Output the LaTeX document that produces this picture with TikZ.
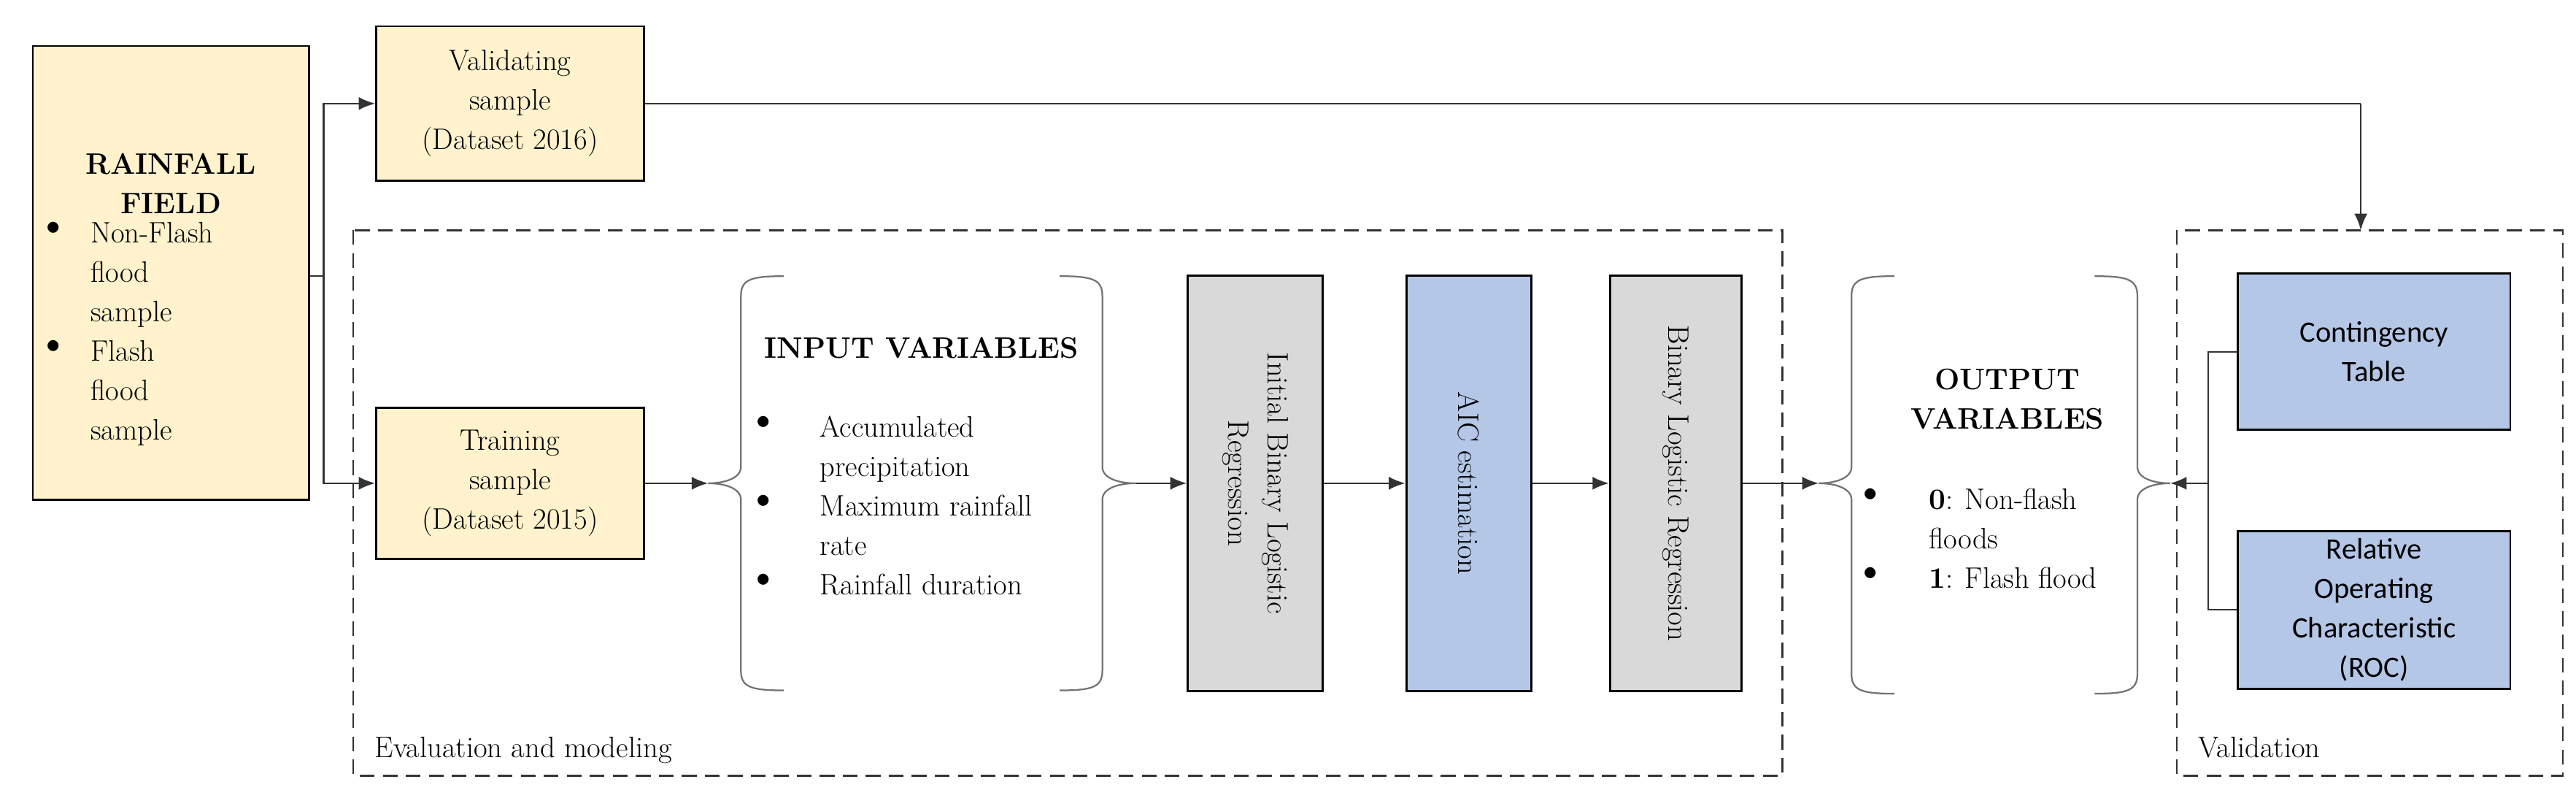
\documentclass[tikz,border=0pt]{standalone}
\usepackage{fontspec}
\newfontfamily\calfnt{Carlito}
\usetikzlibrary{arrows.meta}
\definecolor{yel}{HTML}{FFF2CC}
\definecolor{blu}{HTML}{B4C7E7}
\definecolor{gry}{HTML}{D9D9D9}
\newcommand\myBraceL[4]{% X, top, bottom, mid
 \draw[brc] (#1+26,#2) .. controls (#1+6,#2) and (#1,#2+2) .. (#1,#2+12) -- (#1,#4-10) .. controls (#1,#4-3) and (#1-10,#4) .. (#1-20,#4)
   .. controls (#1-10,#4) and (#1,#4+3) .. (#1,#4+10) -- (#1,#3-12) .. controls (#1,#3-2) and (#1+6,#3) .. (#1+26,#3);}
\newcommand\myBraceR[4]{%
 \draw[brc] (#1-26,#2) .. controls (#1-6,#2) and (#1,#2+2) .. (#1,#2+12) -- (#1,#4-10) .. controls (#1,#4-3) and (#1+10,#4) .. (#1+20,#4)
   .. controls (#1+10,#4) and (#1,#4+3) .. (#1,#4+10) -- (#1,#3-12) .. controls (#1,#3-2) and (#1-6,#3) .. (#1-26,#3);}
\begin{document}
\begin{tikzpicture}[x=1pt,y=-1pt,
 box/.style={draw=black,line width=1.3pt,inner sep=0pt},
 txt/.style={inner sep=0pt,font=\fontsize{18}{24}\selectfont,align=center},
 ctxt/.style={inner sep=0pt,font=\calfnt\fontsize{18}{24}\selectfont,align=center},
 ln/.style={draw=black!80,line width=1pt},
 arr/.style={ln,-{Latex[length=10pt,width=8pt]}},
 dsh/.style={draw=black!80,line width=1.2pt,dash pattern=on 9pt off 5pt},
 brc/.style={draw=black!55,line width=1pt}]
\useasboundingbox (0,0) rectangle (1568,492);
% dashed frames
\draw[dsh] (215,140) rectangle (1085,472);
\draw[dsh] (1325,140) rectangle (1560,472);
\node[txt,anchor=base west] (evl) at (228,461) {Evaluation and modeling};
\node[txt,anchor=base west] (vll) at (1338,461) {Validation};
% rainfall
\node[box,fill=yel,minimum width=168pt,minimum height=276pt] (rain) at (104,166) {};
\node[txt,anchor=north] (rt) at (104,93) {\textbf{RAINFALL}\\\textbf{FIELD}};
\node[txt,anchor=north west,align=left] (rb) at (28,135) {$\bullet$\\[48pt]$\bullet$};
\node[txt,anchor=north west,align=left] (rl) at (55,135) {Non-Flash\\flood\\sample\\Flash\\flood\\sample};
% validating / training
\node[box,fill=yel,minimum width=163pt,minimum height=94pt] (val) at (310.5,63) {};
\node[txt] at (val) {Validating\\sample\\(Dataset 2016)};
\node[box,fill=yel,minimum width=163pt,minimum height=92pt] (tra) at (310.5,294) {};
\node[txt] at (tra) {Training\\sample\\(Dataset 2015)};
% input braces
\myBraceL{451}{168}{420}{294}
\myBraceR{671}{168}{420}{294}
\coordinate (ibl) at (431,294);
\coordinate (ibr) at (691,294);
\node[txt,anchor=base] (ivt) at (561,218) {\textbf{INPUT VARIABLES}};
\node[txt,anchor=north west,align=left] (ivb) at (460,253) {$\bullet$\\[24pt]$\bullet$\\[24pt]$\bullet$};
\node[txt,anchor=north west,align=left] (ivl) at (499,253) {Accumulated\\precipitation\\Maximum rainfall\\rate\\Rainfall duration};
% process boxes
\node[box,fill=gry,minimum width=82pt,minimum height=253pt] (ibr1) at (764,294) {};
\node[txt,rotate=-90] at (ibr1) {Initial Binary Logistic\\Regression};
\node[box,fill=blu,minimum width=76pt,minimum height=253pt] (aic) at (894,294) {};
\node[txt,rotate=-90] at (aic) {AIC estimation};
\node[box,fill=gry,minimum width=80pt,minimum height=253pt] (blr) at (1020,294) {};
\node[txt,rotate=-90] at (blr) {Binary Logistic Regression};
% output braces
\myBraceL{1127}{168}{422}{294}
\myBraceR{1301}{168}{422}{294}
\coordinate (obl) at (1107,294);
\coordinate (obr) at (1321,294);
\node[txt,anchor=north] (ovt) at (1222,224) {\textbf{OUTPUT}\\\textbf{VARIABLES}};
\node[txt,anchor=north west,align=left] (ovb) at (1134,297) {$\bullet$\\[24pt]$\bullet$};
\node[txt,anchor=north west,align=left] (ovl) at (1174,297) {\textbf{0}: Non-flash\\floods\\\textbf{1}: Flash flood};
% validation boxes
\node[box,fill=blu,minimum width=166pt,minimum height=95pt] (cont) at (1445,214) {};
\node[ctxt] at (cont) {Contingency\\Table};
\node[box,fill=blu,minimum width=166pt,minimum height=96pt] (roc) at (1445,371) {};
\node[ctxt] at (roc) {Relative\\Operating\\Characteristic\\(ROC)};
% connectors
\coordinate (sp) at (197,168);
\coordinate (vt) at (1437,63);
\coordinate (vb) at (1437,140);
\coordinate (cj) at (1344,294);
\draw[ln] (rain.east |- sp) -- (sp);
\draw[arr] (sp) |- (val.west);
\draw[arr] (sp) |- (tra.west);
\draw[ln] (val.east) -- (vt);
\draw[arr] (vt) -- (vb);
\draw[arr] (tra.east) -- (ibl);
\draw[arr] (ibr) -- (ibr1.west);
\draw[arr] (ibr1.east) -- (aic.west);
\draw[arr] (aic.east) -- (blr.west);
\draw[arr] (blr.east) -- (obl);
\draw[ln] (cont.west) -| (cj);
\draw[ln] (roc.west) -| (cj);
\draw[arr] (cj) -- (obr);
\end{tikzpicture}
\end{document}
